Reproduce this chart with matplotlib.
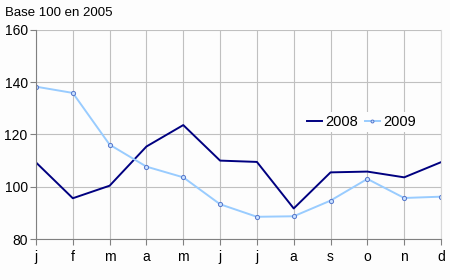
import matplotlib
matplotlib.use("Agg")
import matplotlib.pyplot as plt

plt.rcParams['font.family'] = ['Liberation Sans', 'DejaVu Sans']

months = ["j", "f", "m", "a", "m", "j", "j", "a", "s", "o", "n", "d"]
val_2008 = [109.3, 95.6, 100.4, 115.4, 123.6, 110.0, 109.5, 91.7, 105.5, 105.8, 103.6, 109.4]
val_2009 = [138.3, 135.9, 116.1, 107.7, 103.6, 93.3, 88.5, 88.7, 94.7, 103.0, 95.7, 96.2]
y_ticks = [80, 100, 120, 140, 160]

fig = plt.figure(figsize=(4.5, 2.8), dpi=100)
fig.patch.set_facecolor('#fdfdfd')
ax = fig.add_axes([0.08, 0.1464, 0.90, 0.7466])
ax.set_facecolor('#fdfdfd')

x = list(range(len(months)))
ax.plot(x, val_2008, color='#000080', linewidth=1.4, label='2008')
ax.plot(x, val_2009, color='#99ccff', linewidth=1.4, marker='o', markersize=3,
        markerfacecolor='#c8e0ff', markeredgecolor='#5577cc', markeredgewidth=0.7,
        label='2009')

ax.set_xlim(0, 11)
ax.set_ylim(80, 160)
ax.set_xticks(x)
ax.set_xticklabels(months)
ax.set_yticks(y_ticks)
ax.grid(True, color='#c0c0c0', linewidth=0.8)
ax.set_axisbelow(True)

ax.spines['top'].set_visible(False)
ax.spines['right'].set_color('#d8d8d8')
ax.spines['left'].set_color('#808080')
ax.spines['bottom'].set_color('#808080')
ax.tick_params(axis='both', length=4, color='#808080', labelsize=10, colors='black')
ax.tick_params(axis='x', pad=4)
ax.tick_params(axis='y', pad=2)

fig.text(0.012, 0.955, "Base 100 en 2005", fontsize=9.5, va='center', ha='left')

leg = ax.legend(loc='center left', bbox_to_anchor=(0.645, 0.56), ncol=2, frameon=True,
                fontsize=10.5, handlelength=1.0, handletextpad=0.25, columnspacing=0.45,
                borderpad=0.2, fancybox=False, edgecolor='none', framealpha=1,
                markerscale=0.7)
leg.get_frame().set_facecolor('#fdfdfd')

fig.savefig("out.png", dpi=100, facecolor=fig.get_facecolor())
